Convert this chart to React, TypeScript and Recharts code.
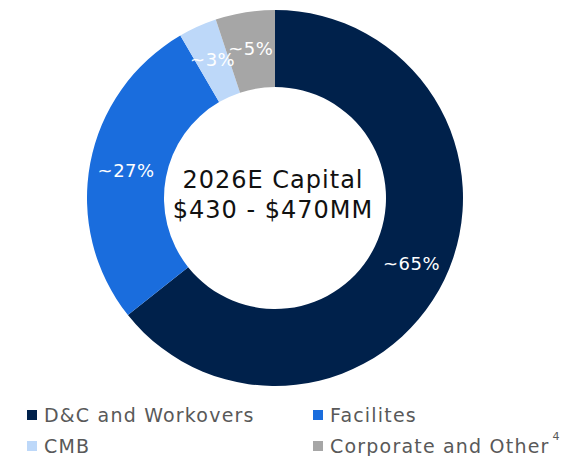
import React from "react";
import { PieChart, Pie, Cell } from "recharts";

const categories = ["D&C and Workovers", "Facilites", "CMB", "Corporate and Other"];
const values = [64.3, 27.3, 3.3, 5.1];
const sliceLabels = ["~65%", "~27%", "~3%", "~5%"];
const colors = ["#00214b", "#1a6ddd", "#bdd8f9", "#a6a6a6"];
const centerLines = ["2026E Capital", "$430 - $470MM"];

const data = categories.map((name, i) => ({ name, value: values[i], label: sliceLabels[i] }));

const FONT = "'DejaVu Sans', sans-serif";
const RAD = Math.PI / 180;

const renderLabel = (props: any) => {
  const { cx, cy, midAngle, innerRadius, outerRadius, index } = props;
  const r = (innerRadius + outerRadius) / 2 + 2;
  const x = cx + r * Math.cos(-midAngle * RAD);
  const y = cy + r * Math.sin(-midAngle * RAD);
  return (
    <text x={x} y={y} fill="#ffffff" textAnchor="middle" dominantBaseline="central"
      fontFamily={FONT} fontSize={18} letterSpacing={0.5}>
      {sliceLabels[index]}
    </text>
  );
};

const LegendBlock = () => (
  <div style={{ position: "absolute", left: 0, top: 404, width: 564, height: 52, fontFamily: FONT, fontSize: 19, letterSpacing: 1.2, color: "#595959", lineHeight: "22px" }}>
    {categories.map((c, i) => {
      const col = i % 2;
      const row = Math.floor(i / 2);
      const left = col === 0 ? 27 : 313;
      const top = row * 31;
      return (
        <div key={c} style={{ position: "absolute", left, top, display: "flex", alignItems: "center", whiteSpace: "nowrap" }}>
          <span style={{ display: "inline-block", width: 10, height: 10, background: colors[i], marginRight: 7 }} />
          <span>{c}</span>
          {i === 3 ? <span style={{ fontSize: 11, marginLeft: 3, position: "relative", top: -9, letterSpacing: 0 }}>4</span> : null}
        </div>
      );
    })}
  </div>
);

export default function App() {
  return (
    <div style={{ position: "absolute", left: 0, top: 0, width: 564, height: 456, background: "#fff", overflow: "hidden" }}>
      <PieChart width={564} height={456} margin={{ top: 0, right: 0, bottom: 0, left: 0 }}>
        <Pie
          data={data}
          dataKey="value"
          nameKey="name"
          cx={275}
          cy={198}
          innerRadius={111}
          outerRadius={188}
          startAngle={90}
          endAngle={-270}
          stroke="none"
          label={renderLabel}
          labelLine={false}
          isAnimationActive={false}
        >
          {data.map((d, i) => (
            <Cell key={d.name} fill={colors[i]} />
          ))}
        </Pie>
        <text x={273} y={180} textAnchor="middle" dominantBaseline="central" fontFamily={FONT} fontSize={24} letterSpacing={1} fill="#111">
          {centerLines[0]}
        </text>
        <text x={273} y={210} textAnchor="middle" dominantBaseline="central" fontFamily={FONT} fontSize={24} letterSpacing={1} fill="#111">
          {centerLines[1]}
        </text>
      </PieChart>
      <LegendBlock />
    </div>
  );
}
